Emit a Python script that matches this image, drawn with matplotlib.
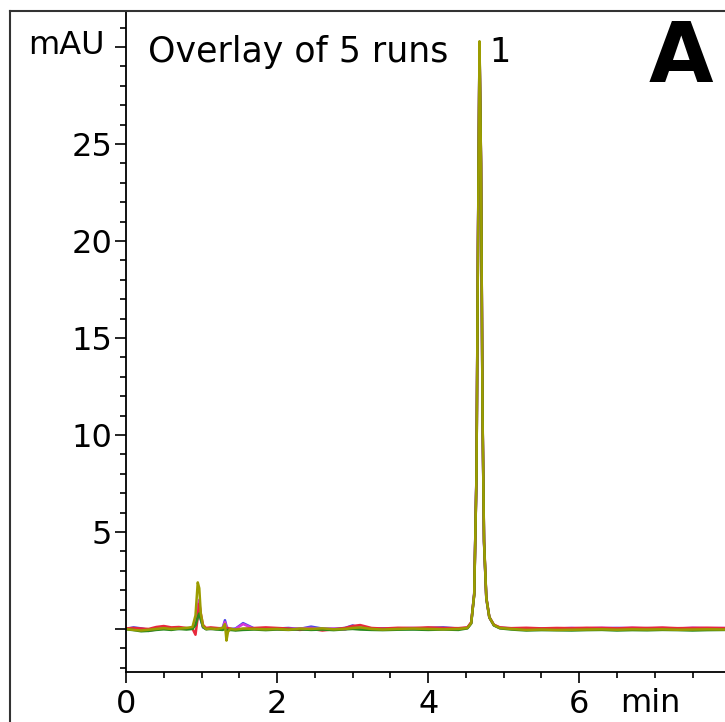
import matplotlib
matplotlib.use("Agg")
import matplotlib.pyplot as plt
from matplotlib.lines import Line2D
from matplotlib.ticker import MultipleLocator

# retention time (min), shared by all five runs
time = [0.00, 0.10, 0.20, 0.30, 0.40, 0.50, 0.60, 0.70, 0.80, 0.88,
        0.92, 0.95, 0.97, 0.99, 1.02, 1.06, 1.12, 1.20, 1.28, 1.31,
        1.33, 1.35, 1.38, 1.45, 1.55, 1.70, 1.85, 2.00, 2.15, 2.30,
        2.45, 2.60, 2.75, 2.90, 3.00, 3.10, 3.25, 3.40, 3.60, 3.80,
        4.00, 4.20, 4.40, 4.52, 4.57, 4.61, 4.64, 4.66, 4.68, 4.70,
        4.72, 4.74, 4.77, 4.81, 4.87, 4.95, 5.10, 5.30, 5.50, 5.70,
        5.90, 6.10, 6.30, 6.50, 6.70, 6.90, 7.10, 7.30, 7.50, 7.70, 7.95]

# absorbance (mAU) of each run
run_olive = [0.00, -0.05, -0.08, -0.04, 0.00, 0.04, 0.00, 0.02, 0.05, 0.10,
             0.70, 2.40, 2.10, 0.80, 0.15, 0.00, 0.02, 0.00, 0.05, 0.25,
             -0.60, -0.15, 0.00, -0.03, 0.02, 0.00, -0.02, 0.00, -0.04, 0.02,
             0.00, 0.03, -0.02, 0.00, 0.05, 0.08, 0.00, -0.03, 0.00, 0.02,
             0.00, -0.02, 0.00, 0.05, 0.30, 1.80, 8.00, 20.00, 30.30, 24.00,
             11.00, 4.50, 1.60, 0.60, 0.20, 0.05, 0.00, -0.05, -0.03, -0.05,
             -0.04, -0.03, -0.02, -0.04, -0.02, -0.03, -0.02, -0.04, -0.03, -0.02, -0.03]
run_magenta = [0.02, 0.00, -0.05, -0.10, -0.02, 0.03, 0.00, 0.05, 0.02, 0.05,
               0.40, 1.20, 1.50, 0.60, 0.10, 0.02, 0.00, 0.03, 0.05, 0.35,
               0.10, 0.00, -0.05, 0.00, 0.25, 0.00, 0.03, -0.02, 0.00, 0.03,
               0.05, 0.00, 0.02, -0.03, 0.10, 0.05, 0.02, 0.00, 0.03, 0.05,
               0.02, 0.00, 0.02, 0.06, 0.32, 1.85, 8.10, 20.20, 30.10, 23.80,
               10.90, 4.40, 1.55, 0.58, 0.20, 0.06, 0.02, 0.00, 0.03, 0.02,
               0.05, 0.03, 0.06, 0.04, 0.06, 0.03, 0.05, 0.02, 0.06, 0.04, 0.05]
run_red = [0.03, 0.05, 0.02, 0.00, 0.10, 0.15, 0.08, 0.10, 0.05, 0.02,
           -0.30, 0.60, 1.30, 0.80, 0.20, 0.05, 0.08, 0.05, 0.02, 0.05,
           0.00, 0.05, 0.02, -0.05, 0.00, 0.05, 0.08, 0.05, 0.02, -0.05,
           0.00, -0.08, -0.02, 0.05, 0.15, 0.20, 0.05, 0.02, 0.06, 0.05,
           0.08, 0.05, 0.04, 0.08, 0.35, 1.75, 7.90, 19.80, 30.00, 24.10,
           11.20, 4.60, 1.65, 0.62, 0.22, 0.08, 0.04, 0.06, 0.03, 0.05,
           0.04, 0.06, 0.05, 0.03, 0.06, 0.05, 0.07, 0.04, 0.05, 0.06, 0.04]
run_green = [-0.02, -0.06, -0.12, -0.10, -0.05, -0.02, -0.05, 0.00, -0.03, 0.00,
             0.20, 0.60, 0.80, 0.50, 0.10, -0.02, 0.00, -0.03, -0.05, 0.00,
             -0.08, -0.05, -0.05, -0.08, -0.05, -0.03, -0.06, -0.03, -0.05, -0.02,
             -0.05, -0.03, -0.06, -0.02, 0.00, -0.03, -0.05, -0.06, -0.04, -0.03,
             -0.05, -0.03, -0.05, 0.03, 0.28, 1.78, 7.95, 19.90, 30.20, 24.00,
             11.10, 4.50, 1.60, 0.60, 0.18, 0.03, -0.03, -0.08, -0.06, -0.07,
             -0.08, -0.06, -0.05, -0.08, -0.06, -0.07, -0.05, -0.06, -0.08, -0.06, -0.05]
run_blue = [0.00, 0.08, 0.03, -0.05, 0.00, 0.02, 0.04, 0.00, 0.03, 0.05,
            0.30, 0.90, 1.00, 0.50, 0.08, 0.00, 0.02, 0.00, 0.05, 0.45,
            0.15, -0.05, 0.00, 0.02, 0.30, 0.02, 0.00, 0.02, 0.05, 0.00,
            0.12, 0.02, 0.00, 0.05, 0.18, 0.05, 0.00, 0.03, 0.02, 0.00,
            0.05, 0.08, 0.02, 0.05, 0.30, 1.82, 8.05, 20.10, 30.00, 23.90,
            11.00, 4.45, 1.58, 0.60, 0.20, 0.05, 0.03, 0.00, 0.02, 0.03,
            0.04, 0.02, 0.03, 0.05, 0.03, 0.04, 0.03, 0.02, 0.04, 0.03, 0.02]

x_ticks = [0, 2, 4, 6]
y_ticks = [0, 5, 10, 15, 20, 25, 30]
y_labels = ["", "5", "10", "15", "20", "25", ""]

W, H = 725, 722
fig = plt.figure(figsize=(W / 100, H / 100), dpi=100)
ax = fig.add_axes([126 / W, 50 / H, (W - 126) / W, (672 - 11) / H])

# draw order: olive trace ends up on top, like the original
runs = [(run_blue, "#4848e8"), (run_magenta, "#d838d8"), (run_red, "#e8283c"),
        (run_green, "#2a8a1e"), (run_olive, "#9c9c00")]
for vals, col in runs:
    ax.plot(time, vals, color=col, lw=1.8, solid_joinstyle="round")

ax.set_xlim(0, 7.93)
ax.set_ylim(-2.22, 31.86)
ax.set_xticks(x_ticks)
ax.set_yticks(y_ticks)
ax.set_yticklabels(y_labels)
ax.xaxis.set_minor_locator(MultipleLocator(0.5))
ax.yaxis.set_minor_locator(MultipleLocator(1))
ax.tick_params(which="major", length=8, width=1.2, labelsize=23)
ax.tick_params(which="minor", length=4, width=1.2)
ax.tick_params(axis="x", pad=4)
ax.tick_params(axis="y", pad=2)
for s in ["top", "right"]:
    ax.spines[s].set_visible(False)
for s in ["left", "bottom"]:
    ax.spines[s].set_linewidth(1.3)

# outer frame of the panel
fig.add_artist(Line2D([10 / W, 1], [1 - 11 / H] * 2, color="#333333", lw=1.5))
fig.add_artist(Line2D([10 / W] * 2, [0, 1 - 11 / H], color="#333333", lw=1.5))

fig.text(105 / W, 1 - 45 / H, "mAU", fontsize=23, ha="right", va="center")
fig.text(148 / W, 1 - 52 / H, "Overlay of 5 runs", fontsize=25, ha="left", va="center")
fig.text(489 / W, 1 - 52 / H, "1", fontsize=24, ha="left", va="center")
fig.text(681 / W, 1 - 58 / H, "A", fontsize=60, fontweight="bold", ha="center", va="center")
fig.text(620 / W, 1 - 703 / H, "min", fontsize=23, ha="left", va="center")

fig.savefig("out.png", dpi=100)
